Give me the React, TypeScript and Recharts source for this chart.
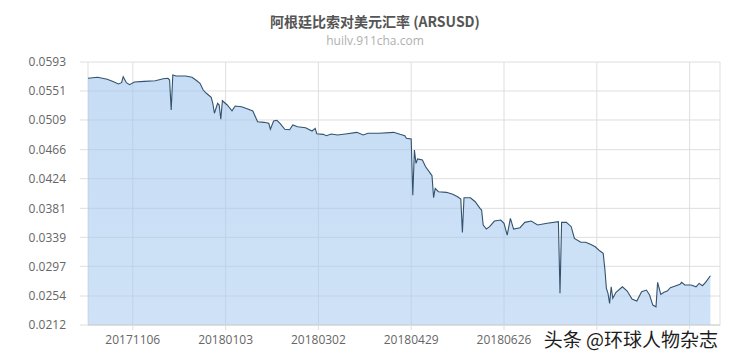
import { AreaChart, Area, XAxis, YAxis, CartesianGrid } from "recharts";

// day 0 = 20171009
const dayIndex = [
  0, 6, 12, 16, 19, 21, 22, 24, 26, 29, 35, 42, 47, 50, 51, 52, 53, 55, 61, 65,
  68, 70, 72, 74, 77, 78, 79, 81, 82, 83, 84, 87, 90, 92, 96, 99, 103, 106, 110, 113,
  114, 116, 118, 120, 123, 126, 128, 131, 136, 140, 142, 143, 147, 149, 152, 156, 162, 168, 172, 175,
  182, 191, 195, 198, 199, 202, 203, 204, 205, 206, 209, 211, 214, 215, 216, 217, 219, 224, 228, 231,
  233, 234, 235, 239, 242, 245, 246, 247, 249, 251, 254, 258, 260, 262, 264, 266, 270, 273, 277, 281,
  287, 294, 295, 296, 299, 302, 304, 308, 311, 314, 317, 320, 322, 323, 324, 325, 326, 327, 328, 330,
  334, 337, 340, 343, 346, 349, 351, 353, 355, 356, 358, 360, 362, 364, 367, 370, 371, 373, 377, 380,
  382, 384, 386, 389,
];

const rate = [
  0.05694, 0.05708, 0.05679, 0.05645, 0.05611, 0.0563, 0.05717, 0.0563, 0.05601, 0.0564,
  0.0565, 0.05659, 0.05688, 0.05694, 0.05669, 0.05234, 0.05742, 0.05727, 0.05727, 0.05708,
  0.05659, 0.05621, 0.05524, 0.05477, 0.05419, 0.05332, 0.05187, 0.05332, 0.05307, 0.051,
  0.05369, 0.05307, 0.05224, 0.05292, 0.05282, 0.05256, 0.0522, 0.05065, 0.05056, 0.05042,
  0.04955, 0.05075, 0.05085, 0.05042, 0.04955, 0.04949, 0.05017, 0.04993, 0.04978, 0.0493,
  0.04969, 0.04891, 0.04882, 0.04862, 0.04887, 0.04872, 0.04891, 0.04911, 0.04872, 0.04897,
  0.04897, 0.04911, 0.04882, 0.04862, 0.04824, 0.04814, 0.03999, 0.04655, 0.04462, 0.04525,
  0.0451, 0.04413, 0.04317, 0.04283, 0.03964, 0.041, 0.04051, 0.04042, 0.04013, 0.03978,
  0.03945, 0.03462, 0.03964, 0.03964, 0.03906, 0.0381, 0.03786, 0.03568, 0.0351, 0.03544,
  0.03626, 0.03641, 0.03593, 0.03423, 0.03665, 0.0351, 0.03529, 0.03607, 0.03626, 0.03568,
  0.03593, 0.03616, 0.02579, 0.03607, 0.03607, 0.03544, 0.03375, 0.03318, 0.03318, 0.03289,
  0.03254, 0.03191, 0.03158, 0.02941, 0.02651, 0.02579, 0.02434, 0.02674, 0.02506, 0.02593,
  0.02674, 0.02612, 0.02496, 0.02467, 0.02602, 0.02626, 0.02554, 0.02409, 0.02384, 0.02738,
  0.02564, 0.02593, 0.02612, 0.0266, 0.02684, 0.02709, 0.02738, 0.02699, 0.02699, 0.02674,
  0.02723, 0.02689, 0.02738, 0.02834,
];

// the last two labels sit under the watermark in the source picture
const xTickDays = [28, 86, 144, 202, 260, 318, 376];
const xTickLabels = ["20171106", "20180103", "20180302", "20180429", "20180626", "", ""];
const yTicks = [0.0212, 0.0254, 0.0297, 0.0339, 0.0381, 0.0424, 0.0466, 0.0509, 0.0551, 0.0593];

const data = dayIndex.map((d, i) => ({ day: d, rate: rate[i] }));

const tickStyle = { fill: "#666", fontSize: 12, fontFamily: '"Open Sans", sans-serif' };

export default function App() {
  return (
    <div style={{ position: "absolute", left: 0, top: 0, width: 729, height: 355, background: "#fff" }}>
      <AreaChart width={729} height={355} data={data} margin={{ top: 62, right: 9, bottom: 0, left: 8 }}>
        <defs>
          <linearGradient id="arsFill" x1="0" y1="0" x2="0" y2="1">
            <stop offset="0%" stopColor="#9fc6ee" stopOpacity={0.6} />
            <stop offset="100%" stopColor="#a9cbf0" stopOpacity={0.56} />
          </linearGradient>
        </defs>
        <CartesianGrid stroke="#dedede" />
        <XAxis
          dataKey="day"
          type="number"
          domain={[0, 395]}
          ticks={xTickDays}
          tickFormatter={(v: number) => xTickLabels[xTickDays.indexOf(v)]}
          height={30}
          tickSize={5}
          tickMargin={5}
          tick={tickStyle}
          axisLine={{ stroke: "#cfcfcf" }}
          tickLine={{ stroke: "#dedede" }}
        />
        <YAxis
          type="number"
          domain={[0.0212, 0.0593]}
          ticks={yTicks}
          tickFormatter={(v: number) => v.toFixed(4)}
          width={80}
          tickSize={8}
          tickMargin={14}
          tick={tickStyle}
          axisLine={false}
          tickLine={{ stroke: "#dedede" }}
        />
        <Area
          type="linear"
          dataKey="rate"
          stroke="#34526e"
          strokeWidth={1.1}
          fill="url(#arsFill)"
          fillOpacity={1}
          dot={false}
          activeDot={false}
          isAnimationActive={false}
        />
      </AreaChart>
      <svg width={729} height={355} style={{ position: "absolute", left: 0, top: 0, pointerEvents: "none" }}>
        <text x={375} y={27} textAnchor="middle" fontSize={14} fontWeight="bold" fill="#555"
          fontFamily='"Noto Sans CJK SC", "Open Sans", sans-serif'>
          阿根廷比索对美元汇率 (ARSUSD)
        </text>
        <text x={375} y={45} textAnchor="middle" fontSize={12} fill="#b0b0b0"
          fontFamily='"Open Sans", sans-serif'>
          huilv.911cha.com
        </text>
        <text x={718} y={347} textAnchor="end" fontSize={19} fill="#1c1c1c" stroke="#fff" strokeWidth={3}
          style={{ paintOrder: "stroke" }} fontFamily='"Noto Sans CJK SC", sans-serif'>
          头条 @环球人物杂志
        </text>
      </svg>
    </div>
  );
}
